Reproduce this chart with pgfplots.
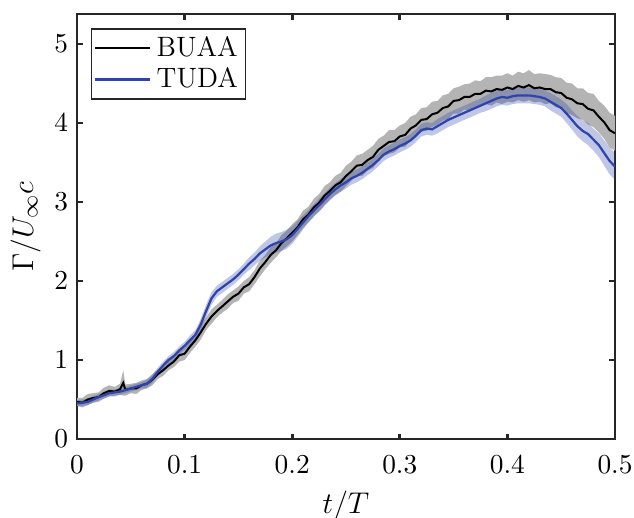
\documentclass[border=0pt]{standalone}
\usepackage{pgfplots}
\usepackage{pgfplotstable}
\pgfplotsset{compat=1.18}
\usepgfplotslibrary{fillbetween}

\definecolor{tudablue}{RGB}{46,68,170}
\definecolor{bandgray}{RGB}{180,180,180}
\definecolor{axgray}{RGB}{38,38,38}

% x  y  e (half width of the band)
\pgfplotstableread{
x y e
0.000 0.47 0.05
0.005 0.46 0.06
0.010 0.50 0.07
0.015 0.52 0.06
0.020 0.53 0.06
0.025 0.58 0.07
0.030 0.61 0.07
0.035 0.60 0.06
0.040 0.63 0.07
0.043 0.71 0.16
0.045 0.62 0.07
0.050 0.64 0.06
0.055 0.64 0.07
0.060 0.68 0.06
0.065 0.70 0.06
0.070 0.75 0.07
0.075 0.82 0.06
0.080 0.87 0.07
0.085 0.93 0.06
0.090 0.98 0.07
0.095 1.06 0.08
0.100 1.08 0.08
0.105 1.17 0.08
0.110 1.25 0.08
0.115 1.35 0.09
0.120 1.46 0.08
0.125 1.55 0.09
0.130 1.62 0.08
0.135 1.68 0.08
0.140 1.74 0.09
0.145 1.80 0.08
0.150 1.84 0.09
0.155 1.92 0.08
0.160 1.96 0.09
0.165 2.05 0.09
0.170 2.16 0.10
0.175 2.24 0.09
0.180 2.33 0.10
0.185 2.39 0.09
0.190 2.48 0.10
0.195 2.54 0.10
0.200 2.61 0.11
0.205 2.68 0.10
0.210 2.78 0.11
0.215 2.84 0.10
0.220 2.93 0.11
0.225 2.99 0.11
0.230 3.08 0.12
0.235 3.14 0.11
0.240 3.21 0.12
0.245 3.25 0.12
0.250 3.33 0.13
0.255 3.39 0.12
0.260 3.46 0.13
0.265 3.47 0.14
0.270 3.53 0.13
0.275 3.57 0.14
0.280 3.66 0.14
0.285 3.71 0.13
0.290 3.76 0.15
0.295 3.77 0.14
0.300 3.83 0.14
0.305 3.85 0.15
0.310 3.93 0.15
0.315 3.97 0.14
0.320 4.04 0.15
0.325 4.05 0.15
0.330 4.11 0.16
0.335 4.13 0.15
0.340 4.19 0.16
0.345 4.21 0.16
0.350 4.28 0.16
0.355 4.29 0.17
0.360 4.33 0.16
0.365 4.33 0.17
0.370 4.37 0.17
0.375 4.37 0.16
0.380 4.41 0.17
0.385 4.40 0.18
0.390 4.43 0.17
0.395 4.42 0.18
0.400 4.45 0.18
0.405 4.43 0.17
0.410 4.47 0.18
0.415 4.45 0.18
0.420 4.48 0.19
0.425 4.44 0.18
0.430 4.45 0.18
0.435 4.43 0.19
0.440 4.43 0.18
0.445 4.39 0.19
0.450 4.38 0.19
0.455 4.32 0.19
0.460 4.30 0.20
0.465 4.25 0.19
0.470 4.24 0.20
0.475 4.18 0.20
0.480 4.16 0.21
0.485 4.08 0.20
0.490 4.01 0.21
0.495 3.91 0.22
0.500 3.87 0.22
}\buaa

\pgfplotstableread{
x y e
0.000 0.45 0.04
0.010 0.47 0.04
0.020 0.53 0.04
0.030 0.58 0.04
0.040 0.60 0.04
0.045 0.62 0.04
0.050 0.64 0.04
0.055 0.66 0.04
0.060 0.68 0.04
0.065 0.70 0.05
0.070 0.76 0.05
0.075 0.85 0.05
0.080 0.93 0.05
0.085 1.00 0.05
0.090 1.05 0.05
0.095 1.12 0.05
0.100 1.18 0.05
0.105 1.25 0.06
0.110 1.32 0.06
0.115 1.45 0.07
0.120 1.62 0.08
0.125 1.78 0.08
0.130 1.87 0.07
0.135 1.92 0.07
0.140 1.97 0.07
0.145 2.02 0.07
0.150 2.08 0.07
0.155 2.15 0.07
0.160 2.22 0.08
0.165 2.28 0.08
0.170 2.35 0.09
0.175 2.40 0.10
0.180 2.45 0.11
0.185 2.48 0.12
0.190 2.50 0.12
0.195 2.53 0.12
0.200 2.58 0.11
0.205 2.66 0.10
0.210 2.74 0.09
0.215 2.82 0.08
0.220 2.89 0.08
0.225 2.96 0.08
0.230 3.03 0.08
0.235 3.10 0.08
0.240 3.16 0.08
0.245 3.21 0.08
0.250 3.25 0.08
0.255 3.30 0.08
0.260 3.33 0.08
0.265 3.37 0.08
0.270 3.42 0.08
0.275 3.47 0.08
0.280 3.53 0.08
0.285 3.60 0.08
0.290 3.64 0.08
0.295 3.67 0.08
0.300 3.71 0.08
0.305 3.74 0.08
0.310 3.78 0.08
0.315 3.84 0.08
0.320 3.91 0.08
0.325 3.93 0.08
0.330 3.92 0.08
0.335 3.96 0.09
0.340 4.00 0.09
0.345 4.04 0.09
0.350 4.07 0.09
0.355 4.10 0.09
0.360 4.13 0.09
0.365 4.16 0.09
0.370 4.19 0.09
0.375 4.22 0.09
0.380 4.25 0.10
0.385 4.28 0.10
0.390 4.31 0.10
0.395 4.33 0.10
0.400 4.32 0.10
0.405 4.34 0.10
0.410 4.35 0.10
0.415 4.35 0.10
0.420 4.35 0.10
0.425 4.34 0.10
0.430 4.33 0.10
0.435 4.31 0.10
0.440 4.27 0.11
0.445 4.23 0.11
0.450 4.19 0.11
0.455 4.12 0.12
0.460 4.04 0.12
0.465 3.96 0.13
0.470 3.90 0.13
0.475 3.86 0.14
0.480 3.79 0.14
0.485 3.72 0.15
0.490 3.62 0.16
0.495 3.52 0.17
0.500 3.45 0.17
}\tuda

\begin{document}
\begin{tikzpicture}
\begin{axis}[
  scale only axis,
  width=215.2pt, height=170pt,
  xmin=0, xmax=0.5, ymin=0, ymax=5.38,
  xtick={0,0.1,...,0.5},
  ytick={0,1,...,5},
  xticklabel style={/pgf/number format/fixed, anchor=north, yshift=-3.4pt},
  tick align=inside,
  major tick length=2.2pt,
  axis line style={axgray, line width=1.1pt},
  every tick/.style={axgray, line width=1.1pt},
  tick label style={font=\fontsize{11.2}{13}\selectfont},
  label style={font=\fontsize{12.8}{15}\selectfont},
  xlabel={$t/T$},
  xlabel style={at={(rel axis cs:0.5,0)}, anchor=north, yshift=-17.2pt},
  ylabel={$\Gamma/U_\infty c$},
  ylabel style={at={(rel axis cs:0,0.5)}, anchor=south, yshift=11pt},
  legend style={at={(0.026,0.967)}, anchor=north west,
    draw=axgray, line width=0.6pt, inner sep=1pt,
    font=\fontsize{11.2}{13}\selectfont, row sep=-1pt},
  legend cell align=left,
  legend image code/.code={\draw[#1, line width=1pt] (0pt,0pt) -- (22pt,0pt);},
]
% band BUAA
\addplot[draw=none, name path=bu, forget plot] table[x=x, y expr=\thisrow{y}+\thisrow{e}] {\buaa};
\addplot[draw=none, name path=bl, forget plot] table[x=x, y expr=\thisrow{y}-\thisrow{e}] {\buaa};
\addplot[bandgray, forget plot] fill between[of=bu and bl];
\addplot[black, line width=0.8pt] table[x=x, y=y] {\buaa};
\addlegendentry{BUAA}
% band TUDA
\addplot[draw=none, name path=tu, forget plot] table[x=x, y expr=\thisrow{y}+\thisrow{e}] {\tuda};
\addplot[draw=none, name path=tl, forget plot] table[x=x, y expr=\thisrow{y}-\thisrow{e}] {\tuda};
\addplot[tudablue, fill opacity=0.3, forget plot] fill between[of=tu and tl];
\addplot[tudablue, line width=0.9pt] table[x=x, y=y] {\tuda};
\addlegendentry{TUDA}
\end{axis}
\pgfresetboundingbox
\path (-30.8pt,-31.2pt) rectangle (222.8pt,175.6pt);
\end{tikzpicture}
\end{document}
